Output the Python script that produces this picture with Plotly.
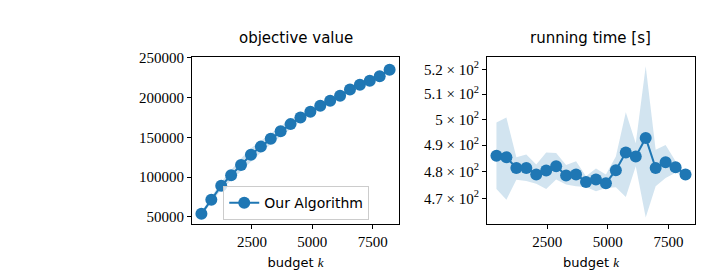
import math
import plotly.graph_objects as go

# ---- data ----
budget = [410 * i for i in range(1, 21)]
obj_mean = [54000, 71800, 89300, 102500, 115500, 128300, 138500, 148300, 157800, 166800,
            175000, 182400, 189800, 196300, 202400, 210200, 216300, 221200, 227000, 235200]
obj_lower = [51500, 68500, 84500, 96000, 107500, 120000, 131000, 141500, 151500, 161000,
             170500, 178500, 186000, 193000, 199500, 207000, 213500, 218800, 224800, 233300]
obj_upper = [56500, 75000, 94000, 109000, 123500, 136500, 146000, 155000, 164000, 172500,
             179800, 186300, 193500, 199500, 205300, 213400, 219100, 223600, 229200, 237100]

time_mean = [486.0, 485.4, 481.3, 481.3, 478.9, 480.4, 482.0, 478.5, 478.9, 476.1,
             477.0, 475.6, 480.5, 487.2, 485.7, 492.8, 481.3, 483.5, 481.6, 478.9]
time_upper = [498.8, 500.7, 485.4, 486.4, 482.6, 487.2, 487.0, 482.4, 483.9, 478.2,
              481.1, 478.9, 485.7, 502.8, 490.7, 521.3, 488.2, 490.1, 483.9, 479.5]
time_lower = [473.5, 469.5, 476.9, 476.4, 475.4, 473.5, 477.0, 475.1, 474.5, 474.2,
              472.6, 473.8, 474.1, 470.5, 482.0, 463.0, 474.5, 477.6, 479.5, 478.3]

obj_ticks = [50000, 100000, 150000, 200000, 250000]
time_ticks = [470, 480, 490, 500, 510, 520]
time_ticktext = ["4.7 × 10<sup>2</sup>", "4.8 × 10<sup>2</sup>", "4.9 × 10<sup>2</sup>",
                 "5 × 10<sup>2</sup>", "5.1 × 10<sup>2</sup>", "5.2 × 10<sup>2</sup>"]
x_ticks = [2500, 5000, 7500]

BLUE = "#1f77b4"
BAND = "rgba(31,119,180,0.2)"
SERIF = "Liberation Serif"
SANS = "DejaVu Sans"

fig = go.Figure()

# left panel
fig.add_trace(go.Scatter(x=budget, y=obj_upper, mode="lines", line=dict(width=0),
                         showlegend=False, hoverinfo="skip", xaxis="x", yaxis="y"))
fig.add_trace(go.Scatter(x=budget, y=obj_lower, mode="lines", line=dict(width=0),
                         fill="tonexty", fillcolor=BAND, showlegend=False,
                         hoverinfo="skip", xaxis="x", yaxis="y"))
fig.add_trace(go.Scatter(x=budget, y=obj_mean, mode="lines+markers", name="Our Algorithm",
                         line=dict(color=BLUE, width=2), marker=dict(color=BLUE, size=12),
                         xaxis="x", yaxis="y"))

# right panel
fig.add_trace(go.Scatter(x=budget, y=time_upper, mode="lines", line=dict(width=0),
                         showlegend=False, hoverinfo="skip", xaxis="x2", yaxis="y2"))
fig.add_trace(go.Scatter(x=budget, y=time_lower, mode="lines", line=dict(width=0),
                         fill="tonexty", fillcolor=BAND, showlegend=False,
                         hoverinfo="skip", xaxis="x2", yaxis="y2"))
fig.add_trace(go.Scatter(x=budget, y=time_mean, mode="lines+markers", showlegend=False,
                         line=dict(color=BLUE, width=2), marker=dict(color=BLUE, size=12),
                         xaxis="x2", yaxis="y2"))

axis_common = dict(showgrid=False, zeroline=False, showline=True, linecolor="black",
                   linewidth=1, mirror=True, ticks="outside", ticklen=4, tickwidth=1,
                   tickcolor="black", tickfont=dict(family=SERIF, size=15, color="black"))

xtitle = dict(text="budget <span style='font-family:Liberation Serif'><i>k</i></span>",
              font=dict(family=SANS, size=13, color="black"), standoff=9)

fig.update_layout(
    width=702, height=276,
    margin=dict(l=0, r=0, t=0, b=0),
    paper_bgcolor="white", plot_bgcolor="white",
    xaxis=dict(domain=[0.2735, 0.5684], range=[20, 8590], tickvals=x_ticks,
               title=xtitle, **axis_common),
    yaxis=dict(domain=[0.1902, 0.8116], range=[41400, 251600], tickvals=obj_ticks,
               ticktext=[str(v) for v in obj_ticks], **axis_common),
    xaxis2=dict(domain=[0.6937, 0.990], range=[20, 8590], tickvals=x_ticks,
                title=xtitle, anchor="y2", **axis_common),
    yaxis2=dict(domain=[0.1902, 0.8116], type="log",
                range=[math.log10(460.7), math.log10(525.2)],
                tickvals=time_ticks, ticktext=time_ticktext, anchor="x2", **axis_common),
    legend=dict(x=0.318, y=0.33, xanchor="left", yanchor="top",
                bgcolor="rgba(255,255,255,0.8)", bordercolor="#cccccc", borderwidth=1,
                font=dict(family=SANS, size=14, color="black")),
    annotations=[
        dict(text="objective value", x=(0.2735 + 0.5684) / 2, y=0.84, xref="paper",
             yref="paper", xanchor="center", yanchor="bottom", showarrow=False,
             font=dict(family=SANS, size=15, color="black")),
        dict(text="running time [s]", x=(0.6937 + 0.990) / 2, y=0.84, xref="paper",
             yref="paper", xanchor="center", yanchor="bottom", showarrow=False,
             font=dict(family=SANS, size=15, color="black")),
    ],
)

fig.write_html("out.html")
